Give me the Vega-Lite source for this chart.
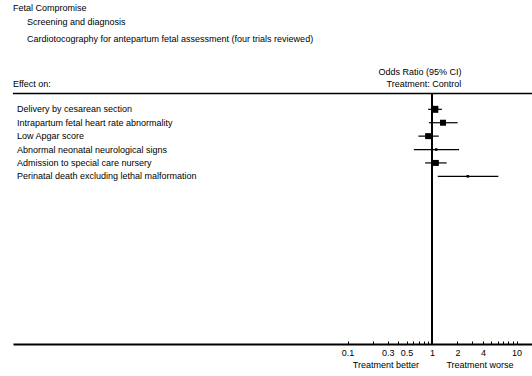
{
  "$schema": "https://vega.github.io/schema/vega-lite/v6.json",
  "width": 519,
  "height": 344,
  "autosize": {"type": "none"},
  "padding": {"left": 13, "top": 0, "right": 0, "bottom": 32},
  "background": "white",
  "config": {
    "view": {"stroke": null},
    "font": "Liberation Sans",
    "text": {"font": "Liberation Sans", "fontSize": 9, "color": "black", "baseline": "middle"}
  },
  "data": {"values": [{"ref": 1}]},
  "datasets": {
    "outcomes": [
      {"row": 1, "label": "Delivery by cesarean section", "or": 1.08, "lo": 0.90, "hi": 1.31, "w": 3},
      {"row": 2, "label": "Intrapartum fetal heart rate abnormality", "or": 1.35, "lo": 0.92, "hi": 2.01, "w": 2.2},
      {"row": 3, "label": "Low Apgar score", "or": 0.90, "lo": 0.69, "hi": 1.20, "w": 2.2},
      {"row": 4, "label": "Abnormal neonatal neurological signs", "or": 1.12, "lo": 0.61, "hi": 2.09, "w": 0.4},
      {"row": 5, "label": "Admission to special care nursery", "or": 1.11, "lo": 0.83, "hi": 1.49, "w": 2.2},
      {"row": 6, "label": "Perinatal death excluding lethal malformation", "or": 2.65, "lo": 1.17, "hi": 6.09, "w": 0.4}
    ],
    "headers": [
      {"text": "Fetal Compromise", "x": 1.1e-5, "row": -6.56, "align": "left"},
      {"text": "Screening and diagnosis", "x": 1.611e-5, "row": -5.515, "align": "left"},
      {"text": "Cardiotocography for antepartum fetal assessment (four trials reviewed)", "x": 1.611e-5, "row": -4.247, "align": "left"},
      {"text": "Effect on:", "x": 1.1e-5, "row": -0.888, "align": "left"},
      {"text": "Odds Ratio (95% CI)", "x": 0.72, "row": -1.784, "align": "center"},
      {"text": "Treatment:  Control", "x": 0.80, "row": -0.888, "align": "center"},
      {"text": "Treatment better", "x": 0.285, "row": 20.08, "align": "center"},
      {"text": "Treatment worse", "x": 3.7, "row": 20.08, "align": "center"}
    ]
  },
  "layer": [
    {
      "mark": {"type": "rule", "color": "black", "strokeWidth": 1.5},
      "encoding": {
        "y": {"datum": -0.179, "type": "quantitative", "scale": {"domain": [-7.157, 18.51], "reverse": true, "nice": false, "zero": false}, "axis": null}
      }
    },
    {
      "mark": {"type": "rule", "color": "black", "strokeWidth": 2},
      "encoding": {
        "x": {"datum": 1, "type": "quantitative", "scale": {"type": "log", "domain": [1.1e-5, 15.25], "nice": false}, "title": null},
        "y": {"datum": -0.179, "type": "quantitative", "scale": {"domain": [-7.157, 18.51], "reverse": true, "nice": false, "zero": false}, "axis": null},
        "y2": {"datum": 18.51}
      }
    },
    {
      "data": {"name": "outcomes"},
      "mark": {"type": "rule", "color": "black", "strokeWidth": 1.2},
      "encoding": {
        "x": {"field": "lo", "type": "quantitative", "scale": {"type": "log", "domain": [1.1e-5, 15.25], "nice": false}, "title": null,
          "axis": {
            "values": [0.1, 0.2, 0.3, 0.4, 0.5, 0.6, 0.7, 0.8, 0.9, 1, 2, 3, 4, 5, 6, 7, 8, 9, 10],
            "labelExpr": "indexof([0.1, 0.3, 0.5, 1, 2, 4, 10], datum.value) >= 0 ? format(datum.value, '~g') : ''",
            "tickSize": -3, "tickColor": "black", "tickWidth": 1,
            "domainColor": "black", "domainWidth": 2,
            "labelColor": "black", "labelFontSize": 9, "labelFont": "Liberation Sans",
            "labelPadding": 7, "labelFlush": false, "labelOverlap": false, "grid": false, "title": null
          }},
        "x2": {"field": "hi"},
        "y": {"field": "row", "type": "quantitative", "scale": {"domain": [-7.157, 18.51], "reverse": true, "nice": false, "zero": false}, "axis": null}
      }
    },
    {
      "data": {"name": "outcomes"},
      "mark": {"type": "square", "color": "black", "filled": true, "opacity": 1},
      "encoding": {
        "x": {"field": "or", "type": "quantitative", "scale": {"type": "log", "domain": [1.1e-5, 15.25], "nice": false}, "title": null},
        "y": {"field": "row", "type": "quantitative", "scale": {"domain": [-7.157, 18.51], "reverse": true, "nice": false, "zero": false}, "axis": null},
        "size": {"field": "w", "type": "quantitative", "scale": {"domain": [0, 3], "range": [0, 49]}, "legend": null}
      }
    },
    {
      "data": {"name": "outcomes"},
      "mark": {"type": "text", "align": "left"},
      "encoding": {
        "x": {"datum": 1.227e-5, "type": "quantitative", "scale": {"type": "log", "domain": [1.1e-5, 15.25], "nice": false}, "title": null},
        "y": {"field": "row", "type": "quantitative", "scale": {"domain": [-7.157, 18.51], "reverse": true, "nice": false, "zero": false}, "axis": null},
        "text": {"field": "label"},
        "fontWeight": {"condition": {"test": "datum.row === 1", "value": "bold"}, "value": "normal"}
      }
    },
    {
      "data": {"name": "headers"},
      "transform": [{"filter": "datum.align === 'left'"}],
      "mark": {"type": "text", "align": "left"},
      "encoding": {
        "x": {"field": "x", "type": "quantitative", "scale": {"type": "log", "domain": [1.1e-5, 15.25], "nice": false}, "title": null},
        "y": {"field": "row", "type": "quantitative", "scale": {"domain": [-7.157, 18.51], "reverse": true, "nice": false, "zero": false}, "axis": null},
        "text": {"field": "text"}
      }
    },
    {
      "data": {"name": "headers"},
      "transform": [{"filter": "datum.align === 'center'"}],
      "mark": {"type": "text", "align": "center"},
      "encoding": {
        "x": {"field": "x", "type": "quantitative", "scale": {"type": "log", "domain": [1.1e-5, 15.25], "nice": false}, "title": null},
        "y": {"field": "row", "type": "quantitative", "scale": {"domain": [-7.157, 18.51], "reverse": true, "nice": false, "zero": false}, "axis": null},
        "text": {"field": "text"}
      }
    }
  ]
}
